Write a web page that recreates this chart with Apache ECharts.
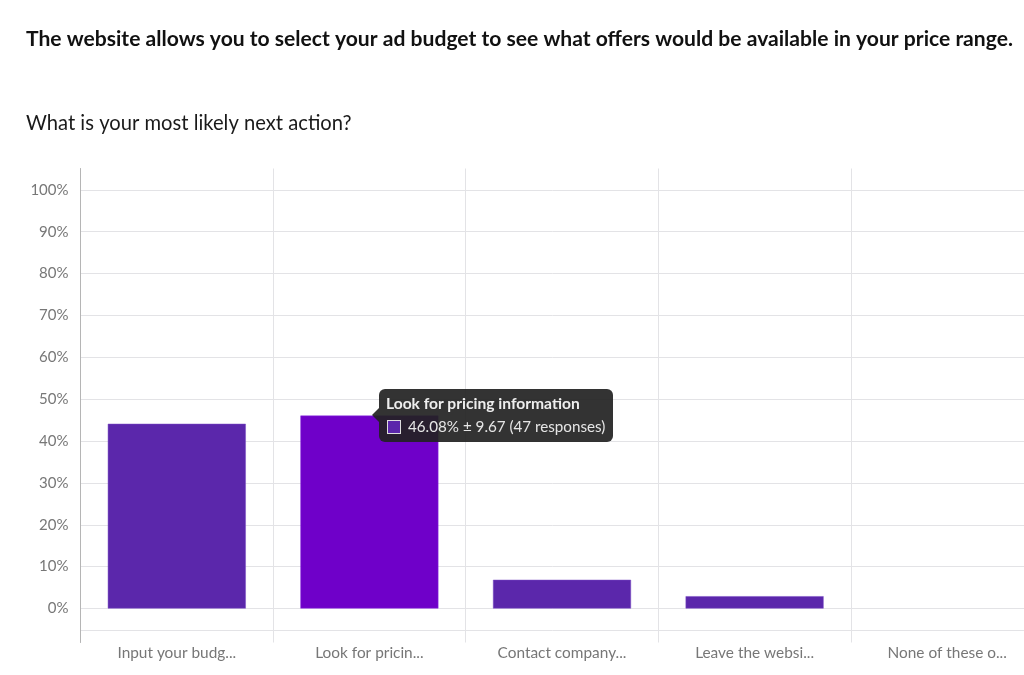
<!DOCTYPE html>
<html>
<head>
<meta charset="utf-8">
<title>Ad budget survey</title>
<style>
html, body { margin: 0; padding: 0; background: #fff; }
#main { width: 1024px; height: 675px; }
</style>
<script src="https://cdn.jsdelivr.net/npm/echarts@6/dist/echarts.min.js"></script>
</head>
<body>
<div id="main"></div>
<script>
var categories = ['Input your budg...', 'Look for pricin...', 'Contact company...', 'Leave the websi...', 'None of these o...'];
var percents = [44.12, 46.08, 6.86, 2.94, 0];
var yTicks = [-5.25, 0, 10, 20, 30, 40, 50, 60, 70, 80, 90, 100];
var activeIndex = 1;
var tipTitle = 'Look for pricing information';
var tipText = '46.08% ± 9.67 (47 responses)';

var font = 'Lato, "Open Sans", sans-serif';
var myChart = echarts.init(document.getElementById('main'));

var option = {
    animation: false,
    textStyle: { fontFamily: font },
    title: [
        {
            text: 'The website allows you to select your ad budget to see what offers would be available in your price range.',
            left: 21, top: 24,
            textStyle: { fontFamily: font, fontSize: 21.1, fontWeight: 'bold', color: '#111' }
        },
        {
            text: 'What is your most likely next action?',
            left: 21, top: 108,
            textStyle: { fontFamily: font, fontSize: 20.2, fontWeight: 'normal', color: '#1a1a1a' }
        }
    ],
    grid: { left: 80.5, top: 168.5, width: 963, height: 474, outerBoundsMode: 'none' },
    tooltip: {
        trigger: 'item',
        alwaysShowContent: true,
        transitionDuration: 0,
        padding: 0,
        borderWidth: 0,
        backgroundColor: 'transparent',
        extraCssText: 'box-shadow:none;',
        position: [379, 389],
        formatter: function () {
            return '<div style="position:relative;width:220px;height:53px;padding:0 7px;background:rgba(34,34,34,.92);' +
                'border-radius:6px;color:#e6e6e6;font:15.2px/1 ' + 'Lato,sans-serif;">' +
                '<div style="position:absolute;left:-7px;top:19px;width:0;height:0;border-top:7px solid transparent;' +
                'border-bottom:7px solid transparent;border-right:7px solid rgba(34,34,34,.92);"></div>' +
                '<div style="position:absolute;left:7px;top:7px;font-weight:bold;font-size:15.6px;color:#eee;white-space:nowrap;">' + tipTitle + '</div>' +
                '<div style="position:absolute;left:8px;top:31px;width:12px;height:12px;background:#5b27ab;border:1.5px solid #ddd;"></div>' +
                '<div style="position:absolute;left:29px;top:30px;white-space:nowrap;">' + tipText + '</div>' +
                '</div>';
        }
    },
    xAxis: {
        type: 'category',
        data: categories,
        axisLine: { show: false },
        axisTick: { show: false },
        axisLabel: { color: '#777', fontSize: 15.4, margin: 3, interval: 0 },
        splitLine: { show: true, lineStyle: { color: '#e3e3e6', width: 1 } }
    },
    yAxis: {
        type: 'value',
        min: -8.12,
        max: 105.1,
        axisLine: { show: true, lineStyle: { color: '#b5b5b5', width: 1 } },
        axisTick: { show: false, customValues: yTicks },
        axisLabel: {
            color: '#777', fontSize: 15, margin: 12,
            customValues: yTicks.slice(1),
            formatter: '{value}%'
        },
        splitLine: { show: true, lineStyle: { color: '#e3e3e6', width: 1 } }
    },
    series: [
        {
            type: 'bar',
            barWidth: 138,
            data: percents.map(function (v, i) {
                return {
                    value: v,
                    itemStyle: i === activeIndex
                        ? { color: '#6f00c9', borderColor: '#8a2fe0', borderWidth: 0.5 }
                        : { color: '#5b27ab', borderColor: '#7a4cc4', borderWidth: v > 0 ? 0.5 : 0 }
                };
            }),
            emphasis: { disabled: true }
        }
    ]
};

myChart.setOption(option);
myChart.dispatchAction({ type: 'showTip', seriesIndex: 0, dataIndex: activeIndex });
window.onresize = function () { myChart.resize(); };
</script>
</body>
</html>
